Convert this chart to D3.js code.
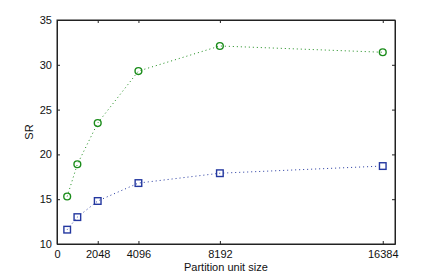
<!DOCTYPE html>
<html>
<head>
<meta charset="utf-8">
<script src="https://cdn.jsdelivr.net/npm/d3@7"></script>
<style>
  body { margin: 0; background: #fff; }
  text { font-family: "Liberation Sans", Arial, sans-serif; }
</style>
</head>
<body>
<div id="chart"></div>
<script>
// valeurs
const partitionSizes = [512, 1024, 2048, 4096, 8192, 16384];
const srCircles = [15.3, 18.9, 23.5, 29.3, 32.1, 31.4];
const srSquares = [11.6, 13.0, 14.8, 16.8, 17.9, 18.7];
const xTicks = [0, 2048, 4096, 8192, 16384];
const yTicks = [10, 15, 20, 25, 30, 35];

const W = 436, H = 275;
const margin = { top: 20, right: 41, bottom: 31, left: 57 };
const width = W - margin.left - margin.right,
      height = H - margin.top - margin.bottom;

const svg = d3.select("#chart").append("svg")
  .attr("width", W).attr("height", H);

const g = svg.append("g")
  .attr("transform", "translate(" + margin.left + "," + margin.top + ")");

const x = d3.scaleLinear().domain([0, 17000]).range([0, width]);
const y = d3.scaleLinear().domain([10, 35]).range([height, 0]);

// axes (ticks vers l'intérieur, comme matlab)
g.append("g").attr("transform", "translate(0," + height + ")")
  .call(d3.axisBottom(x).tickValues(xTicks).tickFormat(d3.format("d"))
    .tickSizeInner(-3).tickSizeOuter(0).tickPadding(6));
g.append("g")
  .call(d3.axisLeft(y).tickValues(yTicks).tickFormat(d3.format("d"))
    .tickSizeInner(-3).tickSizeOuter(0).tickPadding(5));
g.append("g")
  .call(d3.axisTop(x).tickValues(xTicks).tickSizeInner(-3).tickSizeOuter(0).tickFormat(""));
g.append("g").attr("transform", "translate(" + width + ",0)")
  .call(d3.axisRight(y).tickValues(yTicks).tickSizeInner(-3).tickSizeOuter(0).tickFormat(""));

g.selectAll(".tick text").attr("font-size", 11).attr("fill", "#111")
  .style("font-family", "'Liberation Sans', Arial, sans-serif");
g.selectAll(".domain").attr("stroke", "#222");
g.selectAll(".tick line").attr("stroke", "#222");

// cadre
g.append("rect").attr("width", width).attr("height", height)
  .attr("fill", "none").attr("stroke", "#222").attr("stroke-width", 1);

function drawSeries(values, color, shape) {
  const pts = partitionSizes.map((p, i) => [x(p), y(values[i])]);
  g.append("path")
    .attr("d", d3.line()(pts))
    .attr("fill", "none")
    .attr("stroke", color)
    .attr("stroke-width", 1)
    .attr("stroke-dasharray", "1,3");
  if (shape === "circle") {
    g.selectAll(null).data(pts).enter().append("circle")
      .attr("cx", d => d[0]).attr("cy", d => d[1]).attr("r", 3.4)
      .attr("fill", "none").attr("stroke", color).attr("stroke-width", 1.4);
  } else {
    g.selectAll(null).data(pts).enter().append("rect")
      .attr("x", d => d[0] - 3.3).attr("y", d => d[1] - 3.3)
      .attr("width", 6.6).attr("height", 6.6)
      .attr("fill", "none").attr("stroke", color).attr("stroke-width", 1.4);
  }
}

drawSeries(srCircles, "#1a8c1a", "circle");
drawSeries(srSquares, "#2438a0", "square");

// titres des axes
svg.append("text")
  .attr("x", margin.left + x(8192) + 6).attr("y", 271)
  .attr("text-anchor", "middle").attr("font-size", 11).attr("fill", "#111")
  .text("Partition unit size");

svg.append("text")
  .attr("transform", "translate(33," + (margin.top + height / 2) + ") rotate(-90)")
  .attr("text-anchor", "middle").attr("font-size", 11).attr("fill", "#111")
  .text("SR");
</script>
</body>
</html>
